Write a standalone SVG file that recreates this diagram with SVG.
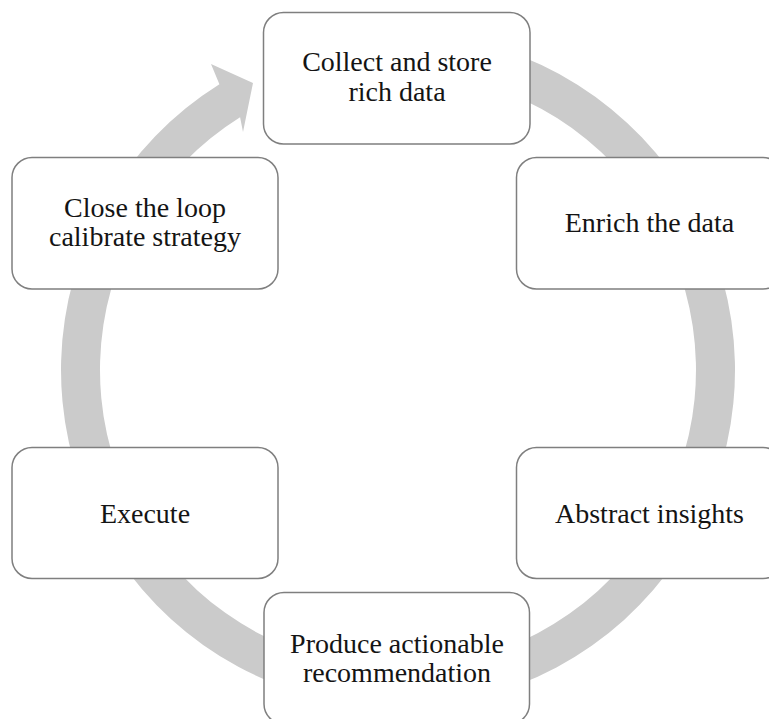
<svg xmlns="http://www.w3.org/2000/svg" width="769" height="719" viewBox="0 0 769 719">
<style>
.box{fill:#ffffff;stroke:#7f7f7f;stroke-width:1.5}
.lbl{font-size:28px;fill:#141414;text-anchor:middle}
.ring{fill:#cbcbcb;stroke:none}
</style>
<rect width="769" height="719" fill="#ffffff"/>
<g id="connectors">
<path class="ring" d="M339.48,38.12 A337,337 0 1 1 219.42,84.21 L211,64 L253,83 L243,132 L240.08,117.28 A298,298 0 1 0 346.25,76.53 Z"/>
</g>
<g font-family="'Liberation Serif', 'DejaVu Serif', serif">
<g id="node-collect">
<rect class="box" x="263.5" y="12.5" width="266.5" height="131.5" rx="20"/>
<text class="lbl" x="397" y="71">Collect and store</text>
<text class="lbl" x="397" y="100.5">rich data</text>
</g>
<g id="node-enrich">
<rect class="box" x="516.5" y="157.5" width="266.5" height="131.5" rx="20"/>
<text class="lbl" x="649.5" y="232">Enrich the data</text>
</g>
<g id="node-abstract">
<rect class="box" x="516.5" y="447.5" width="266.5" height="131" rx="20"/>
<text class="lbl" x="649.5" y="522.5">Abstract insights</text>
</g>
<g id="node-produce">
<rect class="box" x="264" y="592.5" width="265.5" height="131.5" rx="20"/>
<text class="lbl" x="397" y="653">Produce actionable</text>
<text class="lbl" x="397" y="682">recommendation</text>
</g>
<g id="node-execute">
<rect class="box" x="12" y="447.5" width="266" height="131" rx="20"/>
<text class="lbl" x="145" y="522.5">Execute</text>
</g>
<g id="node-close">
<rect class="box" x="12" y="157.5" width="266" height="131.5" rx="20"/>
<text class="lbl" x="145" y="217">Close the loop</text>
<text class="lbl" x="145" y="246">calibrate strategy</text>
</g>
</g>
</svg>
